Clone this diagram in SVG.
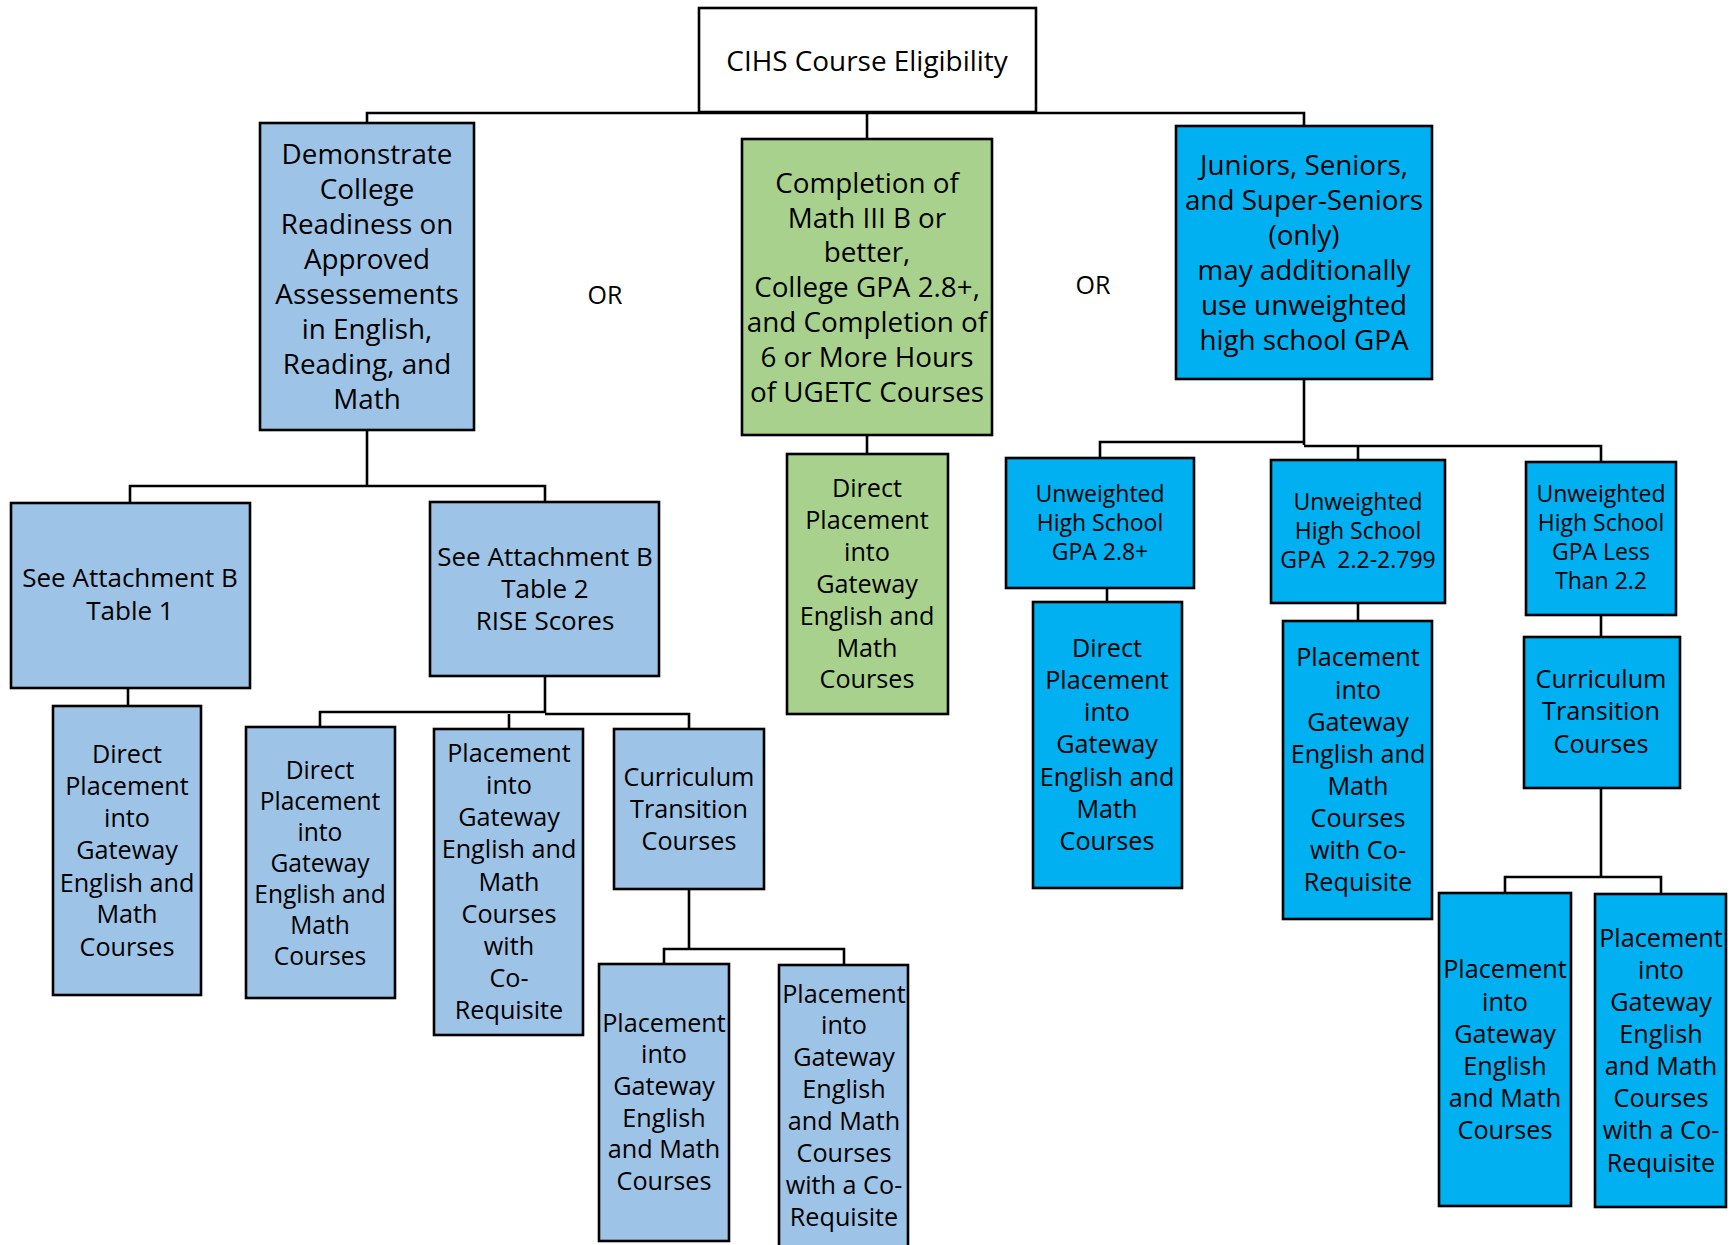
<svg xmlns="http://www.w3.org/2000/svg" width="1729" height="1245" viewBox="0 0 1729 1245">
<style>
.box{stroke:#000;stroke-width:2.6}
.w{fill:#fff}
.b{fill:#9DC3E6}
.g{fill:#A9D18E}
.c{fill:#00B0F0}
text{font-family:"Open Sans","Liberation Sans",sans-serif;fill:#000;text-anchor:middle}
.t1{font-size:27.8px}
.t2{font-size:26px}
.t3{font-size:25.2px}
.t3s{font-size:24.6px}
.t4{font-size:23px}
.or{font-size:25px}
.con{fill:none;stroke:#000;stroke-width:2.6}
</style>
<rect width="1729" height="1245" fill="#fff"/>
<g id="connectors" class="con">
<path d="M367,123 V113 H1304 V126"/>
<path d="M867,113 V139"/>
<path d="M367,430 V486"/>
<path d="M130,503 V486 H545 V502"/>
<path d="M128,688 V706"/>
<path d="M545,676 V713"/>
<path d="M320,727 V712 H545"/>
<path d="M545,714 H689 V729"/>
<path d="M509,714 V729"/>
<path d="M689,889 V949"/>
<path d="M664,964 V949 H844 V965"/>
<path d="M867,435 V454"/>
<path d="M1304,379 V445"/>
<path d="M1100,458 V442 H1304"/>
<path d="M1304,446 H1601 V462"/>
<path d="M1358,446 V460"/>
<path d="M1107,588 V602"/>
<path d="M1358,603 V621"/>
<path d="M1601,615 V637"/>
<path d="M1601,788 V877"/>
<path d="M1505,893 V877 H1661 V894"/>
</g>
<g id="root">
<rect class="box w" x="699" y="8" width="337" height="104"/>
<text x="867" y="71" style="font-size:27.9px">CIHS Course Eligibility</text>
</g>
<g id="demonstrate">
<rect class="box b" x="260" y="123" width="214" height="307"/>
<text class="t1"><tspan x="367" y="164">Demonstrate</tspan><tspan x="367" y="199">College</tspan><tspan x="367" y="234">Readiness on</tspan><tspan x="367" y="269">Approved</tspan><tspan x="367" y="304">Assessements</tspan><tspan x="367" y="339">in English,</tspan><tspan x="367" y="374">Reading, and</tspan><tspan x="367" y="409">Math</tspan></text>
</g>
<g id="or1"><text class="or" x="605" y="304">OR</text></g>
<g id="completion">
<rect class="box g" x="742" y="139" width="250" height="296"/>
<text class="t1"><tspan x="867" y="193">Completion of</tspan><tspan x="867" y="228">Math III B or</tspan><tspan x="867" y="262">better,</tspan><tspan x="867" y="297">College GPA 2.8+,</tspan><tspan x="867" y="332">and Completion of</tspan><tspan x="867" y="367">6 or More Hours</tspan><tspan x="867" y="402">of UGETC Courses</tspan></text>
</g>
<g id="or2"><text class="or" x="1093" y="294">OR</text></g>
<g id="juniors">
<rect class="box c" x="1176" y="126" width="256" height="253"/>
<text class="t1"><tspan x="1304" y="175">Juniors, Seniors,</tspan><tspan x="1304" y="210">and Super-Seniors</tspan><tspan x="1304" y="245">(only)</tspan><tspan x="1304" y="280">may additionally</tspan><tspan x="1304" y="315">use unweighted</tspan><tspan x="1304" y="350">high school GPA</tspan></text>
</g>
<g id="table1">
<rect class="box b" x="11" y="503" width="239" height="185"/>
<text class="t2"><tspan x="130" y="587">See Attachment B</tspan><tspan x="130" y="620">Table 1</tspan></text>
</g>
<g id="table2">
<rect class="box b" x="430" y="502" width="229" height="174"/>
<text class="t2"><tspan x="545" y="566">See Attachment B</tspan><tspan x="545" y="598">Table 2</tspan><tspan x="545" y="630">RISE Scores</tspan></text>
</g>
<g id="direct-l1">
<rect class="box b" x="53" y="706" width="148" height="289"/>
<text class="t3"><tspan x="127" y="763">Direct</tspan><tspan x="127" y="795">Placement</tspan><tspan x="127" y="827">into</tspan><tspan x="127" y="859">Gateway</tspan><tspan x="127" y="892">English and</tspan><tspan x="127" y="923">Math</tspan><tspan x="127" y="956">Courses</tspan></text>
</g>
<g id="direct-l2">
<rect class="box b" x="246" y="727" width="149" height="271"/>
<text class="t3s"><tspan x="320" y="779">Direct</tspan><tspan x="320" y="810">Placement</tspan><tspan x="320" y="841">into</tspan><tspan x="320" y="872">Gateway</tspan><tspan x="320" y="903">English and</tspan><tspan x="320" y="934">Math</tspan><tspan x="320" y="965">Courses</tspan></text>
</g>
<g id="coreq-l">
<rect class="box b" x="434" y="729" width="149" height="306"/>
<text class="t3"><tspan x="509" y="762">Placement</tspan><tspan x="509" y="794">into</tspan><tspan x="509" y="826">Gateway</tspan><tspan x="509" y="858">English and</tspan><tspan x="509" y="891">Math</tspan><tspan x="509" y="923">Courses</tspan><tspan x="509" y="955">with</tspan><tspan x="509" y="987">Co-</tspan><tspan x="509" y="1019">Requisite</tspan></text>
</g>
<g id="transition-l">
<rect class="box b" x="614" y="729" width="150" height="160"/>
<text class="t3"><tspan x="689" y="786">Curriculum</tspan><tspan x="689" y="818">Transition</tspan><tspan x="689" y="850">Courses</tspan></text>
</g>
<g id="gateway-l">
<rect class="box b" x="599" y="964" width="130" height="277"/>
<text class="t3"><tspan x="664" y="1032">Placement</tspan><tspan x="664" y="1063">into</tspan><tspan x="664" y="1095">Gateway</tspan><tspan x="664" y="1127">English</tspan><tspan x="664" y="1158">and Math</tspan><tspan x="664" y="1190">Courses</tspan></text>
</g>
<g id="gateway-coreq-l">
<rect class="box b" x="779" y="965" width="129" height="290"/>
<text class="t3"><tspan x="844" y="1003">Placement</tspan><tspan x="844" y="1034">into</tspan><tspan x="844" y="1066">Gateway</tspan><tspan x="844" y="1098">English</tspan><tspan x="844" y="1130">and Math</tspan><tspan x="844" y="1162">Courses</tspan><tspan x="844" y="1194">with a Co-</tspan><tspan x="844" y="1226">Requisite</tspan></text>
</g>
<g id="direct-green">
<rect class="box g" x="787" y="454" width="161" height="260"/>
<text class="t3"><tspan x="867" y="497">Direct</tspan><tspan x="867" y="529">Placement</tspan><tspan x="867" y="561">into</tspan><tspan x="867" y="593">Gateway</tspan><tspan x="867" y="625">English and</tspan><tspan x="867" y="657">Math</tspan><tspan x="867" y="688">Courses</tspan></text>
</g>
<g id="uw1">
<rect class="box c" x="1006" y="458" width="188" height="130"/>
<text class="t4"><tspan x="1100" y="502">Unweighted</tspan><tspan x="1100" y="531">High School</tspan><tspan x="1100" y="560">GPA 2.8+</tspan></text>
</g>
<g id="uw2">
<rect class="box c" x="1271" y="460" width="174" height="143"/>
<text class="t4" xml:space="preserve"><tspan x="1358" y="510">Unweighted</tspan><tspan x="1358" y="539">High School</tspan><tspan x="1358" y="568">GPA  2.2-2.799</tspan></text>
</g>
<g id="uw3">
<rect class="box c" x="1526" y="462" width="150" height="153"/>
<text class="t4"><tspan x="1601" y="502">Unweighted</tspan><tspan x="1601" y="531">High School</tspan><tspan x="1601" y="560">GPA Less</tspan><tspan x="1601" y="589">Than 2.2</tspan></text>
</g>
<g id="direct-r">
<rect class="box c" x="1033" y="602" width="149" height="286"/>
<text class="t3"><tspan x="1107" y="657">Direct</tspan><tspan x="1107" y="689">Placement</tspan><tspan x="1107" y="721">into</tspan><tspan x="1107" y="753">Gateway</tspan><tspan x="1107" y="786">English and</tspan><tspan x="1107" y="818">Math</tspan><tspan x="1107" y="850">Courses</tspan></text>
</g>
<g id="coreq-r">
<rect class="box c" x="1283" y="621" width="149" height="298"/>
<text class="t3"><tspan x="1358" y="666">Placement</tspan><tspan x="1358" y="699">into</tspan><tspan x="1358" y="731">Gateway</tspan><tspan x="1358" y="763">English and</tspan><tspan x="1358" y="795">Math</tspan><tspan x="1358" y="827">Courses</tspan><tspan x="1358" y="859">with Co-</tspan><tspan x="1358" y="891">Requisite</tspan></text>
</g>
<g id="transition-r">
<rect class="box c" x="1524" y="637" width="156" height="151"/>
<text class="t3"><tspan x="1601" y="688">Curriculum</tspan><tspan x="1601" y="720">Transition</tspan><tspan x="1601" y="753">Courses</tspan></text>
</g>
<g id="gateway-r">
<rect class="box c" x="1439" y="893" width="132" height="313"/>
<text class="t3"><tspan x="1505" y="978">Placement</tspan><tspan x="1505" y="1011">into</tspan><tspan x="1505" y="1043">Gateway</tspan><tspan x="1505" y="1075">English</tspan><tspan x="1505" y="1107">and Math</tspan><tspan x="1505" y="1139">Courses</tspan></text>
</g>
<g id="gateway-coreq-r">
<rect class="box c" x="1595" y="894" width="131" height="313"/>
<text class="t3"><tspan x="1661" y="947">Placement</tspan><tspan x="1661" y="979">into</tspan><tspan x="1661" y="1011">Gateway</tspan><tspan x="1661" y="1043">English</tspan><tspan x="1661" y="1075">and Math</tspan><tspan x="1661" y="1107">Courses</tspan><tspan x="1661" y="1139">with a Co-</tspan><tspan x="1661" y="1172">Requisite</tspan></text>
</g>
</svg>
